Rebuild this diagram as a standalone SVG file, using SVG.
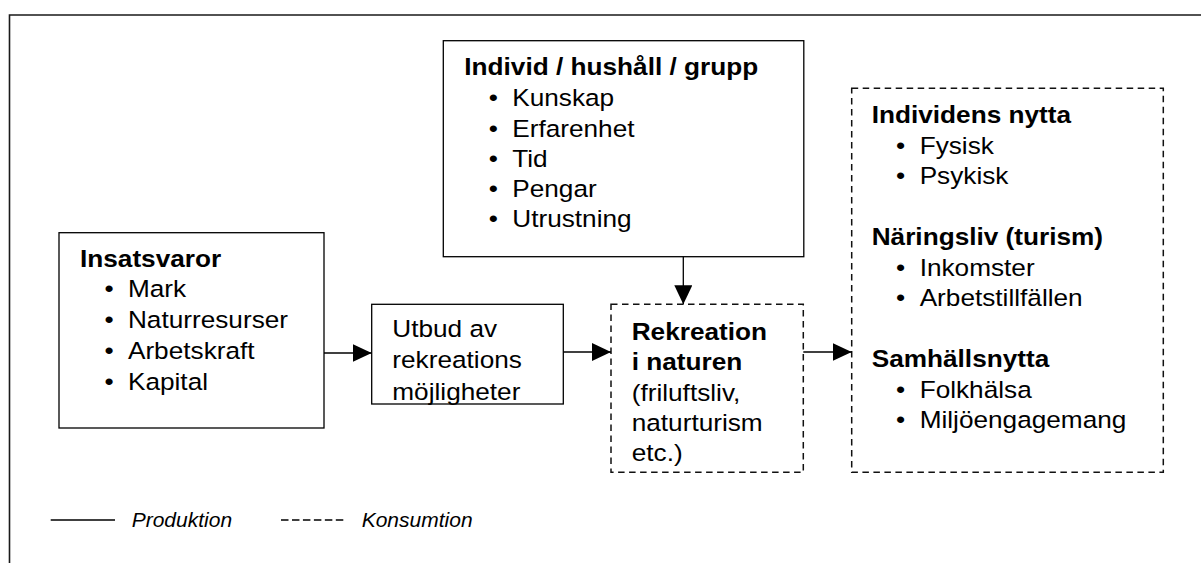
<svg xmlns="http://www.w3.org/2000/svg" width="1201" height="563" viewBox="0 0 1201 563">
<defs>
<style>
.box{fill:#fff;stroke:#000;stroke-width:1.3}
.dbox{fill:#fff;stroke:#111;stroke-width:1.5;stroke-dasharray:6.5 4.5}
.t{font-family:"Liberation Sans",Arial,sans-serif;font-size:23.5px;fill:#000}
.b{font-weight:bold}
.leg{font-family:"Liberation Sans",Arial,sans-serif;font-size:21px;font-style:italic;fill:#000}
.conn{stroke:#000;stroke-width:1.3;fill:none}
</style>
<marker id="arr" markerUnits="userSpaceOnUse" markerWidth="19" markerHeight="18" refX="19" refY="9" orient="auto">
<path d="M0,0 L19,9 L0,18 Z" fill="#000"/>
</marker>
</defs>
<rect width="1201" height="563" fill="#fff"/>
<g id="frame">
<path d="M9.5,563 V15 H1201" fill="none" stroke="#1a1a1a" stroke-width="1.6"/>
</g>

<g id="insatsvaror">
<rect class="box" x="59" y="232.7" width="265" height="195.3"/>
<g transform="matrix(1.115 0 0 1 80 0)" class="t">
<text class="b" x="0" y="266.7">Insatsvaror</text>
<text x="21.9" y="297.5">•</text><text x="43" y="297.5">Mark</text>
<text x="21.9" y="328.3">•</text><text x="43" y="328.3">Naturresurser</text>
<text x="21.9" y="359.1">•</text><text x="43" y="359.1">Arbetskraft</text>
<text x="21.9" y="389.9">•</text><text x="43" y="389.9">Kapital</text>
</g>
</g>

<g id="utbud">
<rect class="box" x="371.7" y="304.3" width="191.6" height="99.7"/>
<g transform="matrix(1.115 0 0 1 392.3 0)" class="t">
<text x="0" y="336.7">Utbud av</text>
<text x="0" y="368.3">rekreations</text>
<text x="0" y="400">möjligheter</text>
</g>
</g>

<g id="individ">
<rect class="box" x="443.3" y="40.7" width="360.5" height="216"/>
<g transform="matrix(1.115 0 0 1 464.3 0)" class="t">
<text class="b" x="0" y="75">Individ / hushåll / grupp</text>
<text x="21.9" y="106.5">•</text><text x="43" y="106.5">Kunskap</text>
<text x="21.9" y="136.6">•</text><text x="43" y="136.6">Erfarenhet</text>
<text x="21.9" y="166.7">•</text><text x="43" y="166.7">Tid</text>
<text x="21.9" y="196.8">•</text><text x="43" y="196.8">Pengar</text>
<text x="21.9" y="226.9">•</text><text x="43" y="226.9">Utrustning</text>
</g>
</g>

<g id="rekreation">
<rect class="dbox" x="611" y="304.3" width="192.3" height="168"/>
<g transform="matrix(1.115 0 0 1 631.7 0)" class="t">
<text class="b" x="0" y="340">Rekreation</text>
<text class="b" x="0" y="370.3">i naturen</text>
<text x="0" y="400.6">(friluftsliv,</text>
<text x="0" y="430.8">naturturism</text>
<text x="0" y="461">etc.)</text>
</g>
</g>

<g id="nytta">
<rect class="dbox" x="851.7" y="88.3" width="311.6" height="384"/>
<g transform="matrix(1.115 0 0 1 871.7 0)" class="t">
<text class="b" x="0" y="123.3">Individens nytta</text>
<text x="21.9" y="153.8">•</text><text x="43" y="153.8">Fysisk</text>
<text x="21.9" y="184.3">•</text><text x="43" y="184.3">Psykisk</text>
<text class="b" x="0" y="245.3">Näringsliv (turism)</text>
<text x="21.9" y="275.8">•</text><text x="43" y="275.8">Inkomster</text>
<text x="21.9" y="306.3">•</text><text x="43" y="306.3">Arbetstillfällen</text>
<text class="b" x="0" y="367.3">Samhällsnytta</text>
<text x="21.9" y="397.8">•</text><text x="43" y="397.8">Folkhälsa</text>
<text x="21.9" y="428.3">•</text><text x="43" y="428.3">Miljöengagemang</text>
</g>
</g>

<g id="connectors">
<line class="conn" x1="324" y1="353" x2="371.7" y2="353" marker-end="url(#arr)"/>
<line class="conn" x1="563.3" y1="352" x2="611" y2="352" marker-end="url(#arr)"/>
<line class="conn" x1="683.3" y1="256.7" x2="683.3" y2="304.3" marker-end="url(#arr)"/>
<line class="conn" x1="803.3" y1="352" x2="851.7" y2="352" marker-end="url(#arr)"/>
</g>

<g id="legend">
<line x1="50.7" y1="520" x2="115" y2="520" stroke="#000" stroke-width="1.3"/>
<text class="leg" x="131.7" y="527.3">Produktion</text>
<line x1="281" y1="520" x2="343.3" y2="520" stroke="#000" stroke-width="1.3" stroke-dasharray="7.5 3.46"/>
<text class="leg" x="361.7" y="527.3">Konsumtion</text>
</g>
</svg>
